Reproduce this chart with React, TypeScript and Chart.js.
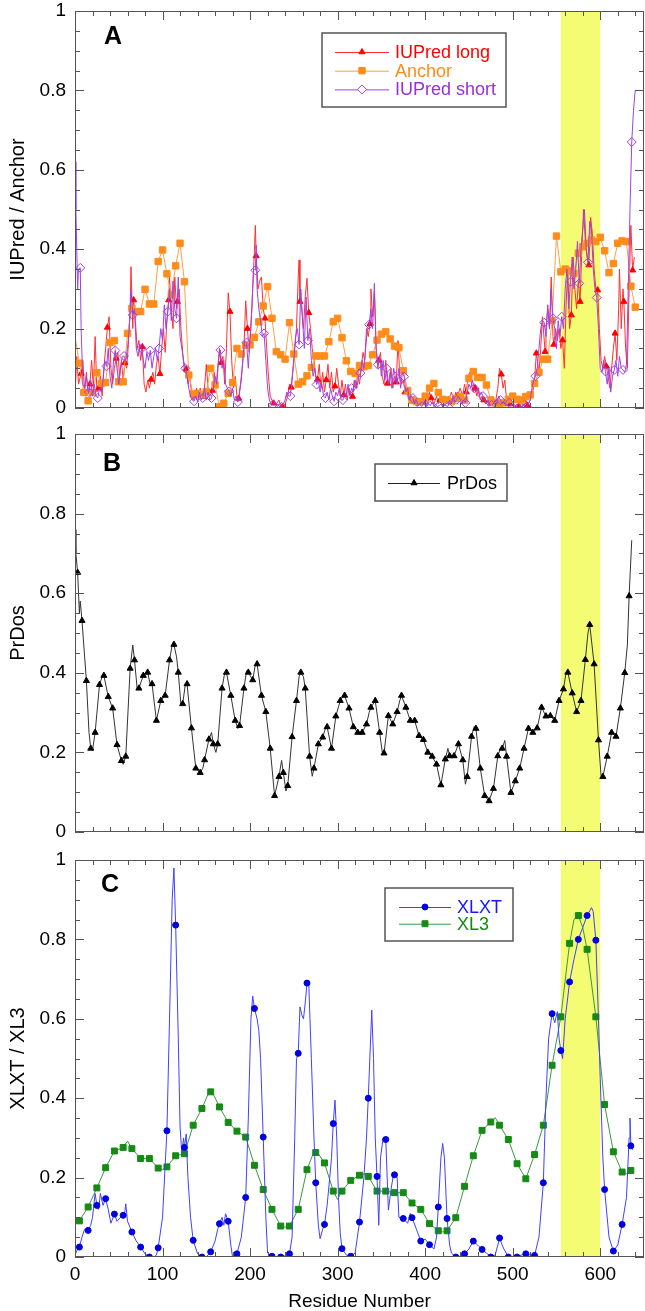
import React, { useEffect, useRef } from "react";
import { Chart, registerables } from "chart.js";
Chart.register(...registerables);

const FONT = "'Liberation Sans', Arial, sans-serif";
const X_MIN = 0;
const X_MAX = 650;
const HIGHLIGHT = [555, 600];
const BAND_COLOR = "#f4fc74";

// Panel A
const IUPRED_LONG: [number, number][] = [
  [0,0.03],[2,0.13],[4,0.06],[7,0.087],[9,0.12],[11,0.04],[13,0.09],[15,0.035],[17,0.06],[19,0.12],[21,0.05],[23,0.18],[25,0.04],[27,0.05],[29,0.08],[31,0.03],[33,0.1],[35,0.15],[37,0.203],[39,0.23],[41,0.1],[43,0.06],[45,0.1],[47,0.125],[49,0.14],[51,0.08],[53,0.12],[55,0.07],[57,0.114],[59,0.1],[61,0.16],[63,0.25],[64,0.356],[66,0.2],[67,0.272],[69,0.22],[71,0.15],[73,0.17],[75,0.12],[77,0.154],[79,0.06],[81,0.04],[83,0.07],[85,0.05],[87,0.072],[89,0.09],[91,0.06],[93,0.11],[95,0.13],[97,0.086],[99,0.15],[101,0.2],[103,0.14],[105,0.22],[107,0.272],[108,0.33],[110,0.25],[112,0.2],[114,0.33],[116,0.25],[117,0.268],[119,0.3],[121,0.2],[123,0.14],[125,0.09],[127,0.098],[129,0.06],[131,0.08],[133,0.04],[135,0.02],[137,0.033],[139,0.05],[141,0.02],[143,0.05],[145,0.03],[147,0.029],[149,0.08],[150,0.11],[152,0.05],[154,0.03],[157,0.044],[159,0.09],[161,0.05],[163,0.1],[165,0.15],[167,0.114],[169,0.13],[171,0.06],[173,0.15],[175,0.29],[177,0.243],[179,0.12],[181,0.05],[183,0.08],[185,0.03],[187,0.024],[189,0.06],[191,0.1],[193,0.15],[195,0.27],[197,0.2],[199,0.14],[201,0.2],[203,0.3],[205,0.4],[206,0.46],[207,0.383],[209,0.3],[211,0.32],[213,0.33],[215,0.25],[217,0.226],[219,0.15],[221,0.08],[223,0.03],[225,0.02],[227,0.012],[230,0.01],[233,0.02],[235,0.005],[237,0.003],[240,0.01],[243,0.03],[245,0.06],[247,0.052],[249,0.1],[251,0.15],[253,0.2],[255,0.33],[256,0.373],[257,0.268],[259,0.25],[261,0.2],[263,0.28],[265,0.327],[267,0.24],[269,0.2],[271,0.15],[273,0.12],[275,0.08],[277,0.072],[279,0.11],[281,0.05],[283,0.09],[285,0.04],[287,0.071],[289,0.11],[291,0.05],[293,0.09],[295,0.04],[297,0.055],[299,0.1],[301,0.06],[303,0.03],[305,0.07],[307,0.033],[309,0.06],[311,0.02],[313,0.05],[315,0.03],[317,0.029],[319,0.07],[321,0.05],[323,0.09],[325,0.06],[327,0.1],[329,0.14],[331,0.12],[333,0.2],[335,0.18],[337,0.212],[338,0.3],[340,0.23],[342,0.29],[344,0.15],[346,0.1],[347,0.12],[349,0.14],[351,0.08],[353,0.06],[355,0.12],[357,0.062],[359,0.06],[361,0.1],[363,0.05],[365,0.08],[367,0.065],[369,0.17],[371,0.08],[373,0.06],[375,0.07],[377,0.04],[379,0.05],[381,0.02],[383,0.04],[385,0.01],[387,0.02],[390,0.005],[393,0.02],[395,0.01],[397,0.015],[400,0.03],[403,0.01],[405,0.04],[407,0.025],[410,0.01],[413,0.03],[415,0.01],[417,0.02],[420,0.005],[423,0.03],[425,0.01],[427,0.02],[430,0.04],[433,0.02],[435,0.04],[437,0.03],[440,0.05],[443,0.03],[445,0.06],[447,0.04],[449,0.08],[451,0.09],[453,0.06],[455,0.04],[457,0.05],[459,0.03],[461,0.05],[463,0.02],[465,0.03],[467,0.02],[469,0.01],[471,0.02],[473,0.005],[475,0.01],[477,0.02],[480,0.01],[483,0.05],[485,0.1],[487,0.085],[489,0.05],[491,0.07],[493,0.02],[495,0.03],[497,0.01],[500,0.015],[503,0.005],[505,0.01],[507,0.004],[510,0.01],[513,0.005],[515,0.02],[517,0.006],[520,0.02],[523,0.04],[525,0.07],[527,0.138],[530,0.09],[532,0.15],[534,0.23],[537,0.142],[538,0.2],[540,0.25],[542,0.2],[544,0.33],[546,0.18],[547,0.16],[549,0.2],[551,0.17],[553,0.2],[555,0.15],[557,0.171],[559,0.1],[561,0.26],[563,0.35],[565,0.2],[567,0.234],[569,0.38],[571,0.3],[573,0.25],[575,0.32],[577,0.268],[579,0.4],[581,0.5],[583,0.42],[585,0.38],[587,0.36],[589,0.48],[591,0.44],[593,0.35],[595,0.3],[597,0.297],[599,0.2],[601,0.12],[603,0.1],[605,0.13],[607,0.105],[609,0.08],[611,0.05],[613,0.1],[615,0.15],[617,0.188],[619,0.12],[621,0.25],[622,0.35],[624,0.2],[626,0.3],[627,0.268],[629,0.15],[631,0.1],[633,0.3],[635,0.46],[637,0.347],[639,0.38]
];

const ANCHOR: [number, number][] = [
  [0,0.18],[5,0.113],[10,0.039],[15,0.018],[20,0.039],[25,0.089],[30,0.062],[35,0.064],[40,0.165],[45,0.17],[50,0.066],[55,0.066],[60,0.188],[65,0.251],[70,0.243],[75,0.243],[80,0.299],[85,0.262],[90,0.262],[95,0.369],[100,0.398],[105,0.338],[110,0.285],[115,0.358],[120,0.415],[125,0.318],[130,0.083],[135,0.035],[140,0.037],[145,0.033],[150,0.041],[155,0.1],[160,0.058],[165,0.003],[170,0.012],[175,0.037],[180,0.064],[185,0.15],[190,0.136],[195,0.158],[200,0.159],[205,0.178],[210,0.217],[215,0.257],[220,0.306],[225,0.226],[230,0.142],[235,0.134],[240,0.123],[245,0.215],[250,0.136],[255,0.06],[260,0.066],[265,0.081],[270,0.102],[275,0.131],[280,0.131],[285,0.131],[290,0.167],[295,0.217],[300,0.226],[305,0.177],[310,0.119],[315,0.092],[320,0.087],[325,0.107],[330,0.104],[335,0.107],[340,0.134],[345,0.171],[350,0.186],[355,0.192],[360,0.174],[365,0.156],[370,0.152],[375,0.094],[380,0.044],[385,0.02],[390,0.016],[395,0.016],[400,0.03],[405,0.05],[410,0.062],[415,0.039],[420,0.022],[425,0.02],[430,0.016],[435,0.024],[440,0.029],[445,0.02],[450,0.075],[455,0.092],[460,0.077],[465,0.077],[470,0.058],[475,0.02],[480,0.013],[485,0.012],[490,0.013],[495,0.022],[500,0.03],[505,0.022],[510,0.02],[515,0.029],[520,0.033],[525,0.062],[530,0.09],[535,0.123],[540,0.123],[545,0.22],[550,0.433],[555,0.343],[560,0.35],[565,0.345],[570,0.339],[575,0.39],[580,0.406],[585,0.415],[590,0.423],[595,0.419],[600,0.43],[605,0.396],[610,0.341],[615,0.364],[620,0.415],[625,0.421],[630,0.419],[635,0.307],[640,0.254]
];

const IUPRED_SHORT: [number, number][] = [
  [0,0.62],[1,0.5],[3,0.3],[4,0.35],[6,0.353],[7,0.2],[9,0.06],[11,0.05],[13,0.08],[15,0.04],[16,0.04],[18,0.07],[20,0.03],[22,0.06],[24,0.03],[26,0.025],[28,0.05],[30,0.04],[32,0.07],[34,0.12],[36,0.105],[38,0.15],[40,0.08],[42,0.05],[44,0.12],[46,0.145],[48,0.1],[50,0.06],[52,0.1],[54,0.13],[56,0.131],[58,0.12],[60,0.15],[62,0.2],[64,0.297],[66,0.234],[68,0.25],[70,0.15],[72,0.13],[74,0.16],[76,0.15],[78,0.12],[80,0.1],[82,0.14],[84,0.12],[86,0.145],[88,0.1],[90,0.13],[92,0.15],[94,0.12],[96,0.15],[98,0.2],[100,0.17],[102,0.26],[104,0.2],[106,0.243],[108,0.3],[110,0.22],[112,0.32],[114,0.25],[116,0.226],[118,0.33],[120,0.18],[122,0.15],[124,0.12],[126,0.1],[128,0.08],[130,0.05],[132,0.03],[134,0.02],[136,0.017],[138,0.03],[140,0.015],[142,0.04],[144,0.02],[146,0.025],[148,0.05],[150,0.02],[152,0.04],[154,0.02],[156,0.025],[158,0.05],[160,0.08],[162,0.06],[164,0.12],[166,0.146],[168,0.1],[170,0.12],[172,0.06],[174,0.05],[176,0.042],[178,0.03],[180,0.05],[182,0.02],[184,0.03],[186,0.015],[188,0.04],[190,0.07],[192,0.13],[194,0.17],[196,0.165],[198,0.1],[200,0.18],[202,0.25],[204,0.35],[206,0.347],[207,0.41],[208,0.3],[210,0.25],[212,0.22],[214,0.18],[216,0.188],[218,0.12],[220,0.05],[222,0.02],[224,0.01],[226,0.008],[228,0.015],[230,0.005],[232,0.01],[234,0.002],[236,0.003],[238,0.01],[240,0.02],[242,0.04],[244,0.03],[246,0.03],[248,0.07],[250,0.12],[252,0.18],[254,0.2],[256,0.16],[258,0.3],[260,0.22],[262,0.15],[264,0.28],[266,0.17],[268,0.2],[270,0.12],[272,0.08],[274,0.1],[276,0.059],[278,0.07],[280,0.04],[282,0.06],[284,0.03],[286,0.025],[288,0.04],[290,0.02],[292,0.05],[294,0.03],[296,0.017],[298,0.04],[300,0.03],[302,0.05],[304,0.02],[306,0.02],[308,0.04],[310,0.03],[312,0.06],[314,0.03],[316,0.05],[318,0.04],[320,0.07],[322,0.05],[324,0.08],[326,0.088],[328,0.12],[330,0.1],[332,0.15],[334,0.2],[336,0.21],[338,0.25],[340,0.2],[342,0.314],[344,0.15],[346,0.109],[348,0.13],[350,0.08],[352,0.12],[354,0.07],[356,0.1],[358,0.06],[360,0.09],[362,0.05],[364,0.1],[366,0.079],[368,0.06],[370,0.1],[372,0.05],[374,0.09],[376,0.079],[378,0.04],[380,0.05],[382,0.02],[384,0.03],[386,0.025],[388,0.01],[390,0.02],[392,0.005],[394,0.01],[396,0.004],[398,0.01],[400,0.02],[402,0.005],[404,0.01],[406,0.006],[408,0.015],[410,0.005],[412,0.01],[414,0.003],[416,0.006],[418,0.01],[420,0.003],[422,0.01],[424,0.005],[426,0.004],[428,0.02],[430,0.01],[432,0.03],[434,0.015],[436,0.021],[438,0.03],[440,0.02],[442,0.01],[444,0.02],[446,0.013],[448,0.04],[450,0.06],[452,0.05],[454,0.07],[456,0.05],[458,0.04],[460,0.05],[462,0.03],[464,0.04],[466,0.03],[468,0.02],[470,0.01],[472,0.02],[474,0.005],[476,0.008],[478,0.01],[480,0.02],[482,0.01],[484,0.03],[486,0.02],[488,0.01],[490,0.015],[492,0.005],[494,0.01],[496,0.013],[498,0.005],[500,0.01],[502,0.002],[504,0.005],[506,0.0],[508,0.005],[510,0.002],[512,0.01],[514,0.002],[516,0.003],[518,0.01],[520,0.02],[522,0.05],[524,0.07],[526,0.08],[528,0.1],[530,0.15],[532,0.2],[534,0.22],[536,0.215],[538,0.18],[540,0.26],[542,0.2],[544,0.3],[546,0.226],[548,0.2],[550,0.15],[552,0.22],[554,0.18],[556,0.23],[558,0.2],[560,0.3],[562,0.35],[564,0.25],[566,0.318],[568,0.38],[570,0.3],[572,0.35],[574,0.42],[576,0.314],[578,0.4],[580,0.45],[582,0.5],[584,0.4],[586,0.367],[588,0.47],[590,0.45],[592,0.35],[594,0.3],[596,0.278],[598,0.2],[600,0.1],[602,0.09],[604,0.12],[606,0.092],[608,0.06],[610,0.1],[612,0.04],[614,0.08],[616,0.096],[618,0.12],[620,0.08],[622,0.13],[624,0.1],[626,0.096],[628,0.09],[630,0.11],[632,0.3],[634,0.5],[636,0.67],[638,0.75],[640,0.8]
];

// Panel B
const PRDOS: [number, number][] = [
  [0,0.76],[1,0.7],[3,0.652],[5,0.55],[6,0.58],[8,0.531],[13,0.38],[16,0.25],[18,0.21],[20,0.205],[23,0.25],[28,0.37],[31,0.39],[33,0.393],[38,0.34],[43,0.311],[48,0.219],[53,0.179],[55,0.17],[58,0.19],[63,0.411],[66,0.47],[68,0.432],[71,0.36],[73,0.361],[78,0.393],[81,0.4],[83,0.401],[86,0.37],[88,0.372],[93,0.28],[98,0.33],[103,0.343],[108,0.432],[111,0.47],[113,0.471],[116,0.44],[118,0.401],[121,0.32],[123,0.322],[126,0.37],[128,0.372],[133,0.261],[138,0.16],[143,0.149],[146,0.16],[148,0.181],[153,0.233],[156,0.25],[158,0.221],[161,0.2],[163,0.221],[168,0.361],[171,0.4],[173,0.401],[178,0.343],[183,0.28],[186,0.26],[188,0.267],[193,0.361],[196,0.405],[198,0.401],[203,0.382],[206,0.42],[208,0.422],[213,0.343],[218,0.302],[223,0.21],[228,0.091],[233,0.139],[236,0.18],[238,0.149],[241,0.103],[243,0.116],[248,0.239],[253,0.33],[256,0.39],[258,0.401],[261,0.39],[263,0.361],[268,0.19],[271,0.14],[273,0.16],[278,0.221],[283,0.238],[286,0.26],[288,0.264],[293,0.21],[298,0.291],[303,0.33],[306,0.34],[308,0.343],[313,0.311],[318,0.264],[323,0.25],[328,0.25],[333,0.271],[336,0.3],[338,0.313],[343,0.33],[348,0.25],[351,0.2],[353,0.198],[358,0.292],[363,0.271],[368,0.302],[371,0.33],[373,0.343],[378,0.313],[383,0.28],[388,0.28],[393,0.242],[398,0.232],[403,0.2],[408,0.19],[413,0.17],[418,0.118],[423,0.183],[426,0.21],[428,0.191],[433,0.191],[438,0.221],[443,0.181],[446,0.12],[448,0.139],[453,0.24],[456,0.265],[458,0.26],[463,0.16],[468,0.091],[473,0.078],[478,0.109],[483,0.191],[486,0.21],[488,0.21],[491,0.23],[493,0.19],[498,0.099],[503,0.128],[508,0.16],[513,0.21],[518,0.26],[523,0.25],[528,0.261],[533,0.313],[538,0.291],[543,0.292],[548,0.28],[553,0.33],[558,0.359],[561,0.4],[563,0.401],[568,0.349],[573,0.302],[578,0.33],[583,0.433],[586,0.5],[588,0.521],[593,0.422],[598,0.231],[601,0.14],[603,0.139],[608,0.19],[613,0.25],[618,0.24],[623,0.311],[628,0.4],[631,0.47],[633,0.593],[636,0.733]
];

// Panel C
const XLXT: [number, number][] = [
  [0,0.005],[3,0.02],[5,0.025],[8,0.05],[11,0.07],[15,0.067],[18,0.08],[20,0.1],[23,0.16],[25,0.13],[27,0.12],[29,0.16],[32,0.13],[35,0.147],[38,0.12],[41,0.085],[45,0.108],[48,0.09],[52,0.1],[55,0.105],[57,0.115],[58,0.134],[60,0.09],[65,0.063],[70,0.04],[75,0.025],[80,0.008],[85,0],[90,0],[93,0.005],[95,0.023],[100,0.1],[105,0.318],[108,0.6],[111,0.9],[113,0.98],[115,0.836],[118,0.55],[120,0.33],[122,0.26],[124,0.3],[125,0.276],[127,0.31],[129,0.2],[132,0.1],[135,0.042],[140,0.008],[145,0],[150,0],[155,0.013],[160,0.04],[163,0.07],[165,0.084],[168,0.1],[170,0.08],[172,0.109],[175,0.09],[178,0.03],[180,0],[185,0.008],[190,0.05],[195,0.15],[198,0.35],[201,0.6],[203,0.657],[205,0.626],[208,0.6],[210,0.57],[212,0.5],[215,0.302],[218,0.1],[220,0.01],[225,0.002],[230,0],[235,0],[240,0.003],[245,0.008],[248,0.05],[251,0.3],[253,0.5],[255,0.513],[257,0.63],[259,0.61],[261,0.6],[263,0.64],[265,0.69],[267,0.69],[270,0.5],[273,0.3],[275,0.187],[278,0.08],[280,0.046],[283,0.07],[285,0.082],[288,0.13],[291,0.2],[293,0.25],[295,0.336],[297,0.395],[299,0.3],[301,0.15],[303,0.06],[305,0.021],[310,0.005],[315,0.002],[320,0.01],[325,0.088],[330,0.2],[333,0.3],[335,0.4],[339,0.622],[341,0.5],[343,0.3],[345,0.203],[347,0.08],[349,0.25],[352,0.3],[355,0.296],[358,0.118],[361,0.17],[364,0.21],[365,0.207],[368,0.2],[370,0.1],[375,0.097],[380,0.085],[383,0.11],[385,0.099],[390,0.07],[395,0.04],[400,0.045],[405,0.031],[410,0.02],[413,0.05],[415,0.126],[418,0.25],[420,0.286],[422,0.25],[425,0.097],[428,0.03],[430,0.01],[435,0],[440,0.002],[445,0.008],[450,0.02],[455,0.04],[460,0.03],[465,0.019],[470,0.01],[475,0],[480,0.005],[483,0.03],[485,0.048],[488,0.03],[490,0.02],[495,0],[500,0],[505,0],[510,0.005],[515,0.008],[520,0.005],[525,0.004],[530,0.05],[535,0.187],[538,0.4],[541,0.55],[545,0.613],[548,0.59],[551,0.618],[553,0.55],[555,0.52],[557,0.5],[560,0.6],[565,0.693],[570,0.75],[575,0.8],[580,0.83],[585,0.86],[590,0.88],[592,0.87],[595,0.798],[598,0.6],[600,0.45],[603,0.25],[605,0.17],[610,0.05],[615,0.015],[620,0.03],[625,0.082],[630,0.15],[633,0.3],[634,0.35],[635,0.28],[637,0.27]
];

const XL3: [number, number][] = [
  [0,0.085],[5,0.091],[15,0.126],[25,0.174],[35,0.225],[45,0.267],[55,0.276],[60,0.292],[65,0.273],[75,0.248],[85,0.248],[95,0.224],[100,0.22],[105,0.227],[115,0.255],[125,0.26],[135,0.332],[145,0.374],[152,0.41],[155,0.416],[158,0.41],[165,0.378],[175,0.339],[185,0.317],[195,0.302],[205,0.231],[215,0.17],[225,0.12],[235,0.078],[240,0.075],[245,0.078],[255,0.12],[265,0.22],[272,0.26],[275,0.263],[278,0.26],[285,0.237],[295,0.166],[300,0.145],[305,0.166],[315,0.193],[325,0.206],[332,0.21],[335,0.203],[345,0.166],[355,0.166],[365,0.162],[375,0.162],[385,0.136],[395,0.12],[405,0.084],[415,0.066],[420,0.063],[425,0.066],[435,0.099],[445,0.178],[455,0.255],[465,0.319],[475,0.34],[480,0.351],[485,0.332],[495,0.296],[505,0.235],[515,0.197],[525,0.258],[535,0.332],[545,0.483],[555,0.605],[565,0.79],[570,0.85],[575,0.86],[580,0.83],[585,0.775],[595,0.605],[605,0.384],[615,0.265],[625,0.214],[630,0.21],[635,0.218]
];

const toXY = (arr: [number, number][]) => arr.map(([x, y]) => ({ x, y }));

function drawMarker(ctx: CanvasRenderingContext2D, style: string, x: number, y: number, r: number, fill: string, stroke: string) {
  ctx.save();
  ctx.beginPath();
  if (style === "triangle") {
    let rad = 0;
    ctx.moveTo(x + Math.sin(rad) * r, y - Math.cos(rad) * r);
    rad += (2 * Math.PI) / 3;
    ctx.lineTo(x + Math.sin(rad) * r, y - Math.cos(rad) * r);
    rad += (2 * Math.PI) / 3;
    ctx.lineTo(x + Math.sin(rad) * r, y - Math.cos(rad) * r);
    ctx.closePath();
  } else if (style === "rect") {
    const s = r * Math.SQRT1_2;
    ctx.rect(x - s, y - s, 2 * s, 2 * s);
  } else if (style === "rectRot") {
    ctx.moveTo(x - r, y);
    ctx.lineTo(x, y + r);
    ctx.lineTo(x + r, y);
    ctx.lineTo(x, y - r);
    ctx.closePath();
  } else {
    ctx.arc(x, y, r, 0, Math.PI * 2);
  }
  ctx.fillStyle = fill;
  ctx.fill();
  ctx.strokeStyle = stroke;
  ctx.lineWidth = 1;
  ctx.stroke();
  ctx.restore();
}

const decoPlugin = {
  id: "deco",
  beforeDatasetsDraw(chart: any) {
    const { ctx, chartArea: a, scales } = chart;
    const x = scales.x;
    const x0 = x.getPixelForValue(HIGHLIGHT[0]);
    const x1 = x.getPixelForValue(HIGHLIGHT[1]);
    ctx.save();
    ctx.fillStyle = BAND_COLOR;
    ctx.fillRect(x0, a.top, x1 - x0, a.bottom - a.top);
    ctx.restore();
  },
  afterDatasetsDraw(chart: any) {
    const { ctx, chartArea: a, scales } = chart;
    const x = scales.x;
    const y = scales.y;
    ctx.save();
    ctx.strokeStyle = "#555";
    ctx.lineWidth = 1;
    ctx.beginPath();
    for (let v = X_MIN; v <= X_MAX; v += 20) {
      const px = Math.round(x.getPixelForValue(v)) + 0.5;
      const len = v % 100 === 0 ? 9 : 5;
      ctx.moveTo(px, a.bottom);
      ctx.lineTo(px, a.bottom - len);
      ctx.moveTo(px, a.top);
      ctx.lineTo(px, a.top + len);
    }
    for (let i = 0; i <= 20; i++) {
      const v = i * 0.05;
      const py = Math.round(y.getPixelForValue(v)) + 0.5;
      const len = i % 4 === 0 ? 9 : 5;
      ctx.moveTo(a.left, py);
      ctx.lineTo(a.left + len, py);
      ctx.moveTo(a.right, py);
      ctx.lineTo(a.right - len, py);
    }
    ctx.stroke();
    ctx.strokeRect(Math.round(a.left) + 0.5, Math.round(a.top) + 0.5, Math.round(a.right - a.left) - 1, Math.round(a.bottom - a.top) - 1);
    ctx.restore();
  },
  afterDraw(chart: any, _args: any, opts: any) {
    const { ctx } = chart;
    ctx.save();
    if (opts.letter) {
      ctx.font = `bold 25px ${FONT}`;
      ctx.fillStyle = "#000";
      ctx.textAlign = "center";
      ctx.textBaseline = "middle";
      ctx.fillText(opts.letter.text, opts.letter.x, opts.letter.y);
    }
    const lg = opts.legend;
    if (lg) {
      ctx.fillStyle = "#fff";
      ctx.fillRect(lg.box[0], lg.box[1], lg.box[2] - lg.box[0], lg.box[3] - lg.box[1]);
      ctx.strokeStyle = "#555";
      ctx.lineWidth = 1.5;
      ctx.strokeRect(lg.box[0], lg.box[1], lg.box[2] - lg.box[0], lg.box[3] - lg.box[1]);
      ctx.font = `18px ${FONT}`;
      ctx.textAlign = "left";
      ctx.textBaseline = "middle";
      lg.items.forEach((it: any, i: number) => {
        const yy = lg.y0 + i * lg.dy;
        ctx.strokeStyle = it.line;
        ctx.lineWidth = 1;
        ctx.beginPath();
        ctx.moveTo(lg.lineX[0], yy + 0.5);
        ctx.lineTo(lg.lineX[1], yy + 0.5);
        ctx.stroke();
        drawMarker(ctx, it.style, (lg.lineX[0] + lg.lineX[1]) / 2, yy, it.r, it.fill, it.stroke);
        ctx.fillStyle = it.text;
        ctx.fillText(it.label, lg.textX, yy + 1);
      });
    }
    ctx.restore();
  },
};

function markerEvery(mod: number, rem: number, r: number) {
  return (c: any) => (c.raw && c.raw.x > 0 && c.raw.x % mod === rem ? r : 0);
}

const fmtY = (v: number) => (Math.abs(v) < 1e-9 ? "0" : Math.abs(v - 1) < 1e-9 ? "1" : v.toFixed(1));

function buildConfig(p: any) {
  return {
    type: "line",
    data: { datasets: p.datasets },
    options: {
      responsive: false,
      animation: false,
      events: [],
      layout: { autoPadding: false, padding: { top: p.padTop, bottom: p.padBottom, left: 0, right: 1 } },
      elements: { line: { tension: 0 } },
      plugins: {
        legend: { display: false },
        tooltip: { enabled: false },
        deco: { letter: p.letter, legend: p.legend },
      },
      scales: {
        x: {
          type: "linear",
          min: X_MIN,
          max: X_MAX,
          display: p.showX,
          grid: { display: false, drawTicks: false },
          border: { display: false },
          ticks: { stepSize: 100, includeBounds: false, autoSkip: false, maxRotation: 0, padding: 6, font: { family: FONT, size: 19 }, color: "#000" },
          title: { display: p.showX, text: "Residue Number", font: { family: FONT, size: 19, lineHeight: 1 }, color: "#000", padding: { top: 0, bottom: 0 } },
          afterFit: (s: any) => {
            if (p.showX) s.height = 54;
            s.paddingLeft = 0;
            s.paddingRight = 0;
          },
        },
        y: {
          type: "linear",
          min: 0,
          max: 1,
          grid: { display: false, drawTicks: false },
          border: { display: false },
          ticks: { stepSize: 0.2, padding: 9, font: { family: FONT, size: 19 }, color: "#000", callback: (v: number) => fmtY(v) },
          title: { display: true, text: p.yTitle, font: { family: FONT, size: 20, lineHeight: 1 }, color: "#000", padding: { top: 8, bottom: 0 } },
          afterFit: (s: any) => {
            s.width = 75;
            s.paddingTop = 0;
            s.paddingBottom = 0;
          },
        },
      },
    },
    plugins: [decoPlugin],
  };
}

const RED = "#ff0000";
const ORANGE = "#ff8c1a";
const PURPLE = "#a040e8";
const BLUE = "#1818ff";
const GREEN = "#158a15";

const panels = [
  {
    top: 0,
    height: 425,
    cfg: () =>
      buildConfig({
        padTop: 11,
        padBottom: 17,
        showX: false,
        yTitle: "IUPred / Anchor",
        letter: { text: "A", x: 113, y: 37 },
        legend: {
          box: [322, 33, 506, 107],
          y0: 52,
          dy: 18.7,
          lineX: [335, 389],
          textX: 395,
          items: [
            { label: "IUPred long", line: "#ff3030", text: RED, style: "triangle", r: 3.5, fill: RED, stroke: RED },
            { label: "Anchor", line: "#ffa040", text: ORANGE, style: "rect", r: 4.5, fill: ORANGE, stroke: ORANGE },
            { label: "IUPred short", line: PURPLE, text: "#9a2fd8", style: "rectRot", r: 4.5, fill: "#fff", stroke: PURPLE },
          ],
        },
        datasets: [
          {
            label: "IUPred short",
            data: toXY(IUPRED_SHORT),
            borderColor: PURPLE,
            borderWidth: 1,
            pointStyle: "rectRot",
            pointRadius: markerEvery(10, 6, 4.5),
            pointBackgroundColor: "rgba(255,255,255,0)",
            pointBorderColor: PURPLE,
            pointBorderWidth: 1,
          },
          {
            label: "Anchor",
            data: toXY(ANCHOR),
            borderColor: "#ffa040",
            borderWidth: 1,
            pointStyle: "rect",
            pointRadius: markerEvery(5, 0, 4.5),
            pointBackgroundColor: ORANGE,
            pointBorderColor: ORANGE,
            pointBorderWidth: 1,
          },
          {
            label: "IUPred long",
            data: toXY(IUPRED_LONG),
            borderColor: "#ff3030",
            borderWidth: 1,
            pointStyle: "triangle",
            pointRadius: markerEvery(10, 7, 3.5),
            pointBackgroundColor: RED,
            pointBorderColor: RED,
            pointBorderWidth: 1,
          },
        ],
      }),
  },
  {
    top: 425,
    height: 425,
    cfg: () =>
      buildConfig({
        padTop: 9,
        padBottom: 18,
        showX: false,
        yTitle: "PrDos",
        letter: { text: "B", x: 112, y: 39 },
        legend: {
          box: [375, 39, 507, 76],
          y0: 58,
          dy: 0,
          lineX: [388, 440],
          textX: 447,
          items: [{ label: "PrDos", line: "#222", text: "#000", style: "triangle", r: 3.5, fill: "#000", stroke: "#000" }],
        },
        datasets: [
          {
            label: "PrDos",
            data: toXY(PRDOS),
            borderColor: "#333",
            borderWidth: 1,
            pointStyle: "triangle",
            pointRadius: markerEvery(5, 3, 3.5),
            pointBackgroundColor: "#000",
            pointBorderColor: "#000",
            pointBorderWidth: 1,
          },
        ],
      }),
  },
  {
    top: 850,
    height: 461,
    cfg: () =>
      buildConfig({
        padTop: 10,
        padBottom: 0,
        showX: true,
        yTitle: "XLXT / XL3",
        letter: { text: "C", x: 110, y: 35 },
        legend: {
          box: [385, 38, 513, 91],
          y0: 57,
          dy: 16.7,
          lineX: [399, 451],
          textX: 457,
          items: [
            { label: "XLXT", line: "#4040ff", text: BLUE, style: "circle", r: 3, fill: "#0000e0", stroke: "#0000e0" },
            { label: "XL3", line: "#3a9a3a", text: GREEN, style: "rect", r: 4.2, fill: GREEN, stroke: GREEN },
          ],
        },
        datasets: [
          {
            label: "XLXT",
            data: toXY(XLXT),
            borderColor: "#4040ff",
            borderWidth: 1,
            pointStyle: "circle",
            pointRadius: markerEvery(10, 5, 3),
            pointBackgroundColor: "#0000e0",
            pointBorderColor: "#0000e0",
            pointBorderWidth: 1,
          },
          {
            label: "XL3",
            data: toXY(XL3),
            borderColor: "#3a9a3a",
            borderWidth: 1,
            pointStyle: "rect",
            pointRadius: markerEvery(10, 5, 4.2),
            pointBackgroundColor: GREEN,
            pointBorderColor: GREEN,
            pointBorderWidth: 1,
          },
        ],
      }),
  },
];

function Panel({ top, height, cfg }: { top: number; height: number; cfg: () => any }) {
  const ref = useRef<HTMLCanvasElement>(null);
  useEffect(() => {
    const chart = new Chart(ref.current as HTMLCanvasElement, cfg());
    return () => chart.destroy();
  }, []);
  return (
    <canvas
      ref={ref}
      width={645}
      height={height}
      style={{ position: "absolute", left: 0, top, width: 645, height, display: "block" }}
    />
  );
}

export default function App() {
  return (
    <div style={{ position: "absolute", left: 0, top: 0, width: 645, height: 1311, background: "#fff", overflow: "hidden" }}>
      {panels.map((p, i) => (
        <Panel key={i} top={p.top} height={p.height} cfg={p.cfg} />
      ))}
    </div>
  );
}
